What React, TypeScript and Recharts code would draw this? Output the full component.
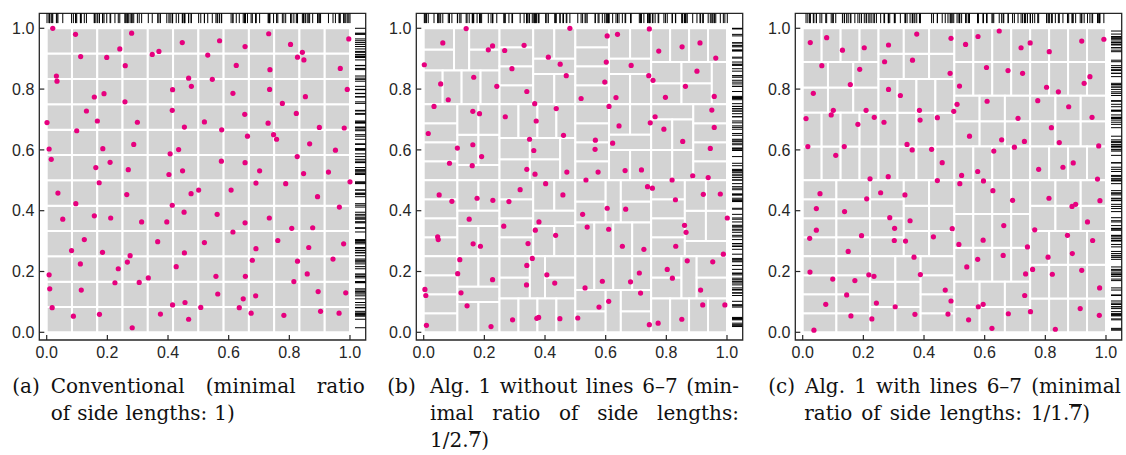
import React from 'react';
import { ComposedChart, XAxis, YAxis, Scatter, ReferenceArea, ReferenceLine } from 'recharts';

// ---------- axes ----------
const X_DOMAIN: [number, number] = [-0.0244, 1.0518];
const Y_DOMAIN: [number, number] = [-0.0253, 1.0493];
const TICKS = [0, 0.2, 0.4, 0.6, 0.8, 1.0];
const RUG_TOP_Y = 1.0332;
const RUG_RIGHT_X = 1.034;

const PINK = '#e6007e';
const CELL = '#d3d3d3';
const INK = '#262626';

// ---------- tilings: [x1, x2, y1, y2, columns, rows] ----------
const BANDS_A = [[0, 1, 0, 1, 12, 12]];

const BANDS_B = [
  [0, 0.1, 0.8611, 1, 1, 2], [0.1, 0.15, 0.8611, 1, 1, 1], [0.15, 0.25, 0.8611, 1, 1, 2], [0, 0.25, 0.75, 0.8611, 4, 1],
  [0.25, 0.3611, 0.75, 1, 1, 4], [0.3611, 0.5, 0.9, 1, 2, 1], [0.3611, 0.5, 0.85, 0.9, 1, 1], [0.3611, 0.5, 0.75, 0.85, 2, 1],
  [0.5, 0.6111, 0.75, 1, 1, 4], [0.6111, 0.75, 0.9, 1, 2, 1], [0.6111, 0.75, 0.85, 0.9, 1, 1], [0.6111, 0.75, 0.75, 0.85, 2, 1],
  [0.75, 1, 0.8889, 1, 4, 1], [0.75, 0.85, 0.75, 0.8889, 1, 2], [0.85, 0.95, 0.75, 0.8889, 1, 2], [0.95, 1, 0.75, 0.8889, 1, 1],
  [0, 0.1111, 0.5, 0.75, 1, 4], [0.1111, 0.25, 0.55, 0.75, 2, 2], [0.1111, 0.25, 0.5, 0.55, 1, 1],
  [0.25, 0.5, 0.6389, 0.75, 4, 1], [0.25, 0.35, 0.5, 0.6389, 1, 2], [0.35, 0.45, 0.5, 0.6389, 1, 2], [0.45, 0.5, 0.5, 0.6389, 1, 1],
  [0.5, 0.6111, 0.5, 0.75, 1, 4], [0.6111, 0.75, 0.65, 0.75, 2, 1], [0.6111, 0.75, 0.6, 0.65, 1, 1], [0.6111, 0.75, 0.5, 0.6, 2, 1],
  [0.75, 0.8889, 0.7, 0.75, 1, 1], [0.75, 0.8889, 0.5, 0.7, 2, 2], [0.8889, 1, 0.5, 0.75, 1, 4],
  [0, 0.1111, 0.25, 0.5, 1, 4], [0.1111, 0.25, 0.4, 0.5, 2, 1], [0.1111, 0.25, 0.35, 0.4, 1, 1], [0.1111, 0.25, 0.25, 0.35, 2, 1],
  [0.25, 0.3611, 0.25, 0.5, 1, 4], [0.3611, 0.5, 0.4, 0.5, 2, 1], [0.3611, 0.5, 0.35, 0.4, 1, 1], [0.3611, 0.5, 0.25, 0.35, 2, 1],
  [0.5, 0.6, 0.3611, 0.5, 1, 2], [0.6, 0.65, 0.3611, 0.5, 1, 1], [0.65, 0.75, 0.3611, 0.5, 1, 2], [0.5, 0.75, 0.25, 0.3611, 4, 1],
  [0.75, 0.8611, 0.25, 0.5, 1, 4], [0.8611, 1, 0.3, 0.5, 2, 2], [0.8611, 1, 0.25, 0.3, 1, 1],
  [0, 0.1111, 0, 0.25, 1, 4], [0.1111, 0.25, 0.15, 0.25, 2, 1], [0.1111, 0.25, 0.1, 0.15, 1, 1], [0.1111, 0.25, 0, 0.1, 2, 1],
  [0.25, 0.35, 0.1111, 0.25, 1, 2], [0.35, 0.4, 0.1111, 0.25, 1, 1], [0.4, 0.5, 0.1111, 0.25, 1, 2], [0.25, 0.5, 0, 0.1111, 4, 1],
  [0.5, 0.75, 0.1389, 0.25, 4, 1], [0.5, 0.6, 0, 0.1389, 1, 2], [0.6, 0.65, 0, 0.1389, 1, 1], [0.65, 0.75, 0, 0.1389, 1, 2],
  [0.75, 0.85, 0.1111, 0.25, 1, 2], [0.85, 0.9, 0.1111, 0.25, 1, 1], [0.9, 1, 0.1111, 0.25, 1, 2], [0.75, 1, 0, 0.1111, 4, 1],
];

const BANDS_C = [
  [0, 0.25, 0.8889, 1, 4, 1], [0, 0.25, 0.7222, 0.8889, 3, 2], [0, 0.25, 0.5, 0.7222, 4, 2],
  [0.25, 0.5, 0.8333, 1, 3, 2], [0.25, 0.5, 0.5, 0.8333, 4, 3],
  [0.5, 0.75, 0.7778, 1, 4, 2], [0.5, 0.75, 0.6111, 0.7778, 3, 2], [0.5, 0.75, 0.5, 0.6111, 4, 1],
  [0.75, 1, 0.7778, 1, 4, 2], [0.75, 1, 0.6111, 0.7778, 3, 2], [0.75, 1, 0.5, 0.6111, 4, 1],
  [0, 0.3333, 0.25, 0.5, 3, 4], [0.3333, 0.5, 0.25, 0.5, 2, 3],
  [0, 0.2222, 0, 0.25, 2, 4], [0.2222, 0.3889, 0, 0.25, 2, 3], [0.3889, 0.5, 0, 0.25, 1, 4],
  [0.5, 0.75, 0.1667, 0.5, 4, 3], [0.5, 0.75, 0, 0.1667, 3, 2],
  [0.75, 1, 0.3333, 0.5, 3, 2], [0.75, 1, 0, 0.3333, 4, 3],
];

// ---------- sample points [x, y] ----------
const PTS_A = [
  [0.020, 1.000], [0.095, 0.980], [0.280, 0.984], [0.032, 0.843], [0.034, 0.826], [0.112, 0.907], [0.198, 0.904], [0.241, 0.932], [0.259, 0.877], [0.348, 0.914],
  [0.370, 0.924], [0.447, 0.953], [0.570, 0.959], [0.531, 0.912], [0.654, 0.940], [0.732, 0.982], [0.804, 0.947], [0.843, 0.921], [0.827, 0.905], [0.848, 0.896],
  [0.996, 0.965], [0.968, 0.868], [0.625, 0.878], [0.736, 0.864], [0.468, 0.836], [0.546, 0.832], [0.477, 0.809], [0.415, 0.798], [0.157, 0.774], [0.189, 0.785],
  [0.258, 0.758], [0.131, 0.728], [0.001, 0.690], [0.167, 0.695], [0.299, 0.691], [0.099, 0.663], [0.008, 0.603], [0.015, 0.569], [0.185, 0.604], [0.287, 0.618],
  [0.162, 0.542], [0.209, 0.559], [0.269, 0.535], [0.414, 0.730], [0.454, 0.675], [0.435, 0.601], [0.407, 0.587], [0.403, 0.519], [0.448, 0.531], [0.520, 0.692],
  [0.577, 0.666], [0.614, 0.786], [0.653, 0.717], [0.662, 0.645], [0.576, 0.563], [0.654, 0.558], [0.702, 0.531], [0.735, 0.799], [0.777, 0.753], [0.823, 0.720],
  [0.730, 0.688], [0.748, 0.650], [0.758, 0.635], [0.853, 0.775], [0.899, 0.674], [0.867, 0.620], [0.826, 0.578], [0.847, 0.522], [0.929, 0.527], [0.952, 0.599],
  [0.981, 0.672], [0.991, 0.799],
  [1.000, 0.495], [0.173, 0.492], [0.690, 0.491], [0.788, 0.489], [0.037, 0.458], [0.264, 0.453], [0.476, 0.456], [0.501, 0.468], [0.608, 0.468], [0.893, 0.446],
  [0.096, 0.423], [0.414, 0.418], [0.965, 0.412], [0.453, 0.395], [0.562, 0.388], [0.053, 0.372], [0.157, 0.383], [0.211, 0.376], [0.313, 0.363], [0.396, 0.363],
  [0.654, 0.360], [0.734, 0.376], [0.614, 0.330], [0.808, 0.342], [0.877, 0.344], [0.124, 0.305], [0.366, 0.298], [0.520, 0.295], [0.762, 0.302], [0.979, 0.291],
  [0.082, 0.269], [0.184, 0.263], [0.454, 0.261], [0.864, 0.279], [0.690, 0.275], [0.275, 0.252], [0.266, 0.231], [0.111, 0.225], [0.678, 0.237], [0.944, 0.241],
  [0.827, 0.234], [0.236, 0.209], [0.427, 0.216], [0.008, 0.189], [0.558, 0.184], [0.655, 0.184], [0.859, 0.192], [0.225, 0.163], [0.305, 0.164], [0.335, 0.179],
  [0.815, 0.167], [0.010, 0.143], [0.114, 0.139], [0.564, 0.126], [0.895, 0.134], [0.986, 0.130], [0.648, 0.110], [0.689, 0.120], [0.018, 0.081], [0.456, 0.098],
  [0.415, 0.090], [0.508, 0.082], [0.635, 0.081], [0.088, 0.053], [0.174, 0.059], [0.375, 0.060], [0.468, 0.043], [0.674, 0.063], [0.782, 0.056], [0.903, 0.069],
  [0.964, 0.063], [0.282, 0.015],
];

const PTS_B = [
  [0.002, 0.880], [0.063, 0.952], [0.140, 0.999], [0.056, 0.817], [0.034, 0.743], [0.081, 0.765], [0.165, 0.839], [0.241, 0.809], [0.213, 0.929], [0.227, 0.942],
  [0.267, 0.927], [0.331, 0.944], [0.291, 0.867], [0.340, 0.792], [0.366, 0.752], [0.371, 0.695], [0.411, 0.905], [0.450, 0.882], [0.470, 0.844], [0.482, 1.000],
  [0.437, 0.736], [0.461, 0.648], [0.605, 0.975], [0.639, 0.980], [0.602, 0.889], [0.597, 0.823], [0.634, 0.772], [0.611, 0.743], [0.519, 0.769], [0.684, 0.878],
  [0.744, 0.998], [0.775, 0.925], [0.742, 0.844], [0.756, 0.829], [0.797, 0.773], [0.852, 0.939], [0.911, 0.952], [0.963, 0.902], [0.901, 0.859], [0.863, 0.809],
  [0.958, 0.776], [0.950, 0.731], [0.958, 0.674], [0.763, 0.709], [0.747, 0.689], [0.792, 0.668], [0.644, 0.679], [0.623, 0.622], [0.566, 0.632], [0.565, 0.602],
  [0.854, 0.628], [0.945, 0.605], [0.269, 0.709], [0.162, 0.727], [0.184, 0.719], [0.015, 0.654], [0.111, 0.606], [0.162, 0.617], [0.191, 0.578], [0.085, 0.556],
  [0.160, 0.548], [0.349, 0.635], [0.363, 0.598], [0.340, 0.536], [0.367, 0.520], [0.472, 0.527], [0.575, 0.527], [0.664, 0.532], [0.718, 0.534], [0.819, 0.501],
  [0.887, 0.515], [0.938, 0.509], [0.535, 0.501],
  [0.051, 0.452], [0.093, 0.431], [0.176, 0.441], [0.228, 0.434], [0.281, 0.430], [0.318, 0.469], [0.402, 0.489], [0.459, 0.452], [0.738, 0.479], [0.754, 0.474],
  [0.830, 0.436], [0.922, 0.454], [0.978, 0.455], [0.150, 0.372], [0.264, 0.349], [0.380, 0.363], [0.368, 0.336], [0.046, 0.314], [0.048, 0.305], [0.163, 0.291],
  [0.187, 0.283], [0.344, 0.292], [0.435, 0.319], [0.524, 0.388], [0.605, 0.408], [0.666, 0.405], [0.539, 0.346], [0.610, 0.339], [0.655, 0.283], [0.726, 0.273],
  [0.860, 0.352], [0.865, 0.329], [0.831, 0.283], [1.001, 0.376], [0.119, 0.239], [0.112, 0.193], [0.358, 0.243], [0.340, 0.220], [0.406, 0.189], [0.227, 0.173],
  [0.123, 0.130], [0.143, 0.087], [0.339, 0.156], [0.432, 0.162], [0.532, 0.146], [0.589, 0.168], [0.682, 0.166], [0.711, 0.195], [0.803, 0.207], [0.820, 0.178],
  [0.869, 0.235], [0.953, 0.232], [0.988, 0.257], [0.913, 0.139], [0.715, 0.129], [0.004, 0.141], [0.007, 0.121], [0.610, 0.102], [0.578, 0.083], [0.920, 0.090],
  [0.993, 0.090], [0.009, 0.023], [0.222, 0.019], [0.293, 0.041], [0.373, 0.046], [0.379, 0.049], [0.449, 0.045], [0.508, 0.047], [0.744, 0.025], [0.773, 0.030],
  [0.851, 0.043],
];

const PTS_C = [
  [0.025, 0.953], [0.079, 0.969], [0.131, 0.928], [0.203, 0.936], [0.063, 0.877], [0.035, 0.786], [0.157, 0.815], [0.188, 0.865], [0.283, 0.945], [0.270, 0.890],
  [0.376, 0.981], [0.362, 0.895], [0.489, 0.967], [0.486, 0.852], [0.283, 0.799], [0.322, 0.779], [0.517, 0.810], [0.537, 0.947], [0.578, 0.973], [0.606, 0.871],
  [0.648, 0.991], [0.677, 0.861], [0.720, 0.936], [0.750, 0.952], [0.725, 0.852], [0.813, 0.923], [0.804, 0.806], [0.843, 0.791], [0.920, 0.958], [0.993, 0.964],
  [0.947, 0.841], [0.928, 0.819], [0.775, 0.762], [0.608, 0.760], [0.509, 0.750], [0.498, 0.727], [0.385, 0.730], [0.387, 0.698], [0.444, 0.706], [0.268, 0.691],
  [0.236, 0.707], [0.209, 0.730], [0.182, 0.684], [0.101, 0.730], [0.094, 0.715], [0.011, 0.703], [0.017, 0.611], [0.109, 0.582], [0.137, 0.611], [0.344, 0.618],
  [0.361, 0.600], [0.425, 0.602], [0.460, 0.558], [0.550, 0.645], [0.656, 0.633], [0.630, 0.596], [0.698, 0.609], [0.731, 0.628], [0.710, 0.704], [0.820, 0.673],
  [0.846, 0.624], [0.877, 0.742], [0.954, 0.707], [0.976, 0.613], [0.892, 0.557], [0.858, 0.543], [0.778, 0.536], [0.577, 0.529], [0.524, 0.516], [0.282, 0.512],
  [0.222, 0.505], [0.444, 0.499], [0.972, 0.504], [0.596, 0.498],
  [0.057, 0.456], [0.045, 0.407], [0.045, 0.336], [0.023, 0.309], [0.138, 0.397], [0.211, 0.439], [0.257, 0.459], [0.337, 0.452], [0.287, 0.377], [0.303, 0.342],
  [0.302, 0.302], [0.339, 0.300], [0.354, 0.367], [0.194, 0.318], [0.150, 0.266], [0.518, 0.489], [0.627, 0.466], [0.692, 0.434], [0.812, 0.441], [0.980, 0.433],
  [0.888, 0.414], [0.900, 0.421], [0.939, 0.363], [0.765, 0.337], [0.873, 0.319], [0.663, 0.351], [0.493, 0.341], [0.431, 0.314], [0.515, 0.289], [0.595, 0.303],
  [0.741, 0.281], [0.889, 0.259], [0.956, 0.302], [0.367, 0.247], [0.577, 0.240], [0.661, 0.253], [0.541, 0.215], [0.809, 0.247], [0.758, 0.207], [0.823, 0.191],
  [0.920, 0.204], [0.735, 0.192], [0.388, 0.190], [0.218, 0.189], [0.235, 0.184], [0.172, 0.170], [0.099, 0.175], [0.024, 0.198], [0.145, 0.123], [0.470, 0.139],
  [0.489, 0.103], [0.579, 0.084], [0.595, 0.092], [0.732, 0.121], [0.751, 0.068], [0.915, 0.078], [0.979, 0.146], [0.076, 0.092], [0.243, 0.096], [0.305, 0.084],
  [0.159, 0.054], [0.228, 0.044], [0.370, 0.059], [0.479, 0.060], [0.547, 0.041], [0.678, 0.061], [0.978, 0.056], [0.037, 0.007], [0.624, 0.013], [0.833, 0.010],
];

// ---------- helpers ----------
function cellsFromBands(bands: number[][]) {
  const out: number[][] = [];
  bands.forEach(([x1, x2, y1, y2, nc, nr]) => {
    const w = (x2 - x1) / nc;
    const h = (y2 - y1) / nr;
    for (let i = 0; i < nc; i++) {
      for (let j = 0; j < nr; j++) {
        out.push([x1 + i * w, x1 + (i + 1) * w, y1 + j * h, y1 + (j + 1) * h]);
      }
    }
  });
  return out;
}

const Dot = (p: any) => <circle cx={p.cx} cy={p.cy} r={2.6} fill={PINK} />;
const RugV = (p: any) => <line x1={p.cx} x2={p.cx} y1={p.cy - 4.9} y2={p.cy + 4.9} stroke="#000" strokeWidth={1} />;
const RugH = (p: any) => <line x1={p.cx - 5.3} x2={p.cx + 5.3} y1={p.cy} y2={p.cy} stroke="#000" strokeWidth={1} />;

const tickStyle = { fill: INK, fontSize: 16, fontFamily: "'Liberation Sans', Arial, sans-serif" };

function Panel({ left, points, bands }: { left: number; points: number[][]; bands: number[][] }) {
  const cells = cellsFromBands(bands);
  const data = points.map(([x, y]) => ({ x, y }));
  const rugTop = points.map(([x]) => ({ x, y: RUG_TOP_Y }));
  const rugRight = points.map(([, y]) => ({ x: RUG_RIGHT_X, y }));
  const tickLen = 0.0165;
  return (
    <div style={{ position: 'absolute', left, top: 0 }}>
      <ComposedChart width={372} height={372} margin={{ top: 13.3, right: 6.3, bottom: 2, left: 0 }}>
        <XAxis
          type="number"
          dataKey="x"
          domain={X_DOMAIN}
          allowDataOverflow
          ticks={TICKS}
          interval={0}
          tickFormatter={(v: number) => v.toFixed(1)}
          tickLine={false}
          axisLine={false}
          tickSize={0}
          tickMargin={7}
          height={30}
          tick={tickStyle}
        />
        <YAxis
          type="number"
          dataKey="y"
          domain={Y_DOMAIN}
          allowDataOverflow
          ticks={TICKS}
          interval={0}
          tickFormatter={(v: number) => v.toFixed(1)}
          tickLine={false}
          axisLine={false}
          tickSize={0}
          tickMargin={5}
          width={39.3}
          tick={tickStyle}
        />
        {cells.map((c, i) => (
          <ReferenceArea
            key={'c' + i}
            x1={c[0]}
            x2={c[1]}
            y1={c[2]}
            y2={c[3]}
            fill={CELL}
            fillOpacity={1}
            stroke="#ffffff"
            strokeWidth={2}
            ifOverflow="visible"
          />
        ))}
        <ReferenceArea
          x1={X_DOMAIN[0]}
          x2={X_DOMAIN[1]}
          y1={Y_DOMAIN[0]}
          y2={Y_DOMAIN[1]}
          fill="none"
          fillOpacity={0}
          stroke={INK}
          strokeWidth={1.3}
          ifOverflow="visible"
        />
        {TICKS.map((v) => (
          <ReferenceLine
            key={'tx' + v}
            segment={[{ x: v, y: Y_DOMAIN[0] }, { x: v, y: Y_DOMAIN[0] + tickLen }]}
            stroke={INK}
            strokeWidth={1.2}
            ifOverflow="visible"
          />
        ))}
        {TICKS.map((v) => (
          <ReferenceLine
            key={'ty' + v}
            segment={[{ x: X_DOMAIN[0], y: v }, { x: X_DOMAIN[0] + tickLen, y: v }]}
            stroke={INK}
            strokeWidth={1.2}
            ifOverflow="visible"
          />
        ))}
        <Scatter data={rugTop} shape={RugV} isAnimationActive={false} />
        <Scatter data={rugRight} shape={RugH} isAnimationActive={false} />
        <Scatter data={data} shape={Dot} isAnimationActive={false} />
      </ComposedChart>
    </div>
  );
}

// ---------- captions ----------
const CAP_FONT = "'DejaVu Serif', 'Liberation Serif', serif";
const CAP_SIZE = 20;
const CAP_ASC = 16.9;

function CapLine({ x, base, width, words, justify, gap = 7 }: any) {
  return (
    <div
      style={{
        position: 'absolute',
        left: x,
        top: base - CAP_ASC,
        width: justify ? width : undefined,
        display: 'flex',
        justifyContent: justify ? 'space-between' : 'flex-start',
        columnGap: justify ? 0 : gap,
        whiteSpace: 'nowrap',
        fontFamily: CAP_FONT,
        fontSize: CAP_SIZE,
        lineHeight: CAP_SIZE + 'px',
        color: '#111',
      }}
    >
      {words.map((w: any, i: number) => (
        <span key={i}>{w}</span>
      ))}
    </div>
  );
}

const Bar7 = () => (
  <span style={{ display: 'inline-block', borderTop: '1.3px solid #111', lineHeight: '0.87em' }}>7</span>
);

export default function App() {
  return (
    <div style={{ position: 'absolute', left: 0, top: 0, width: 1126, height: 455, background: '#fff', overflow: 'hidden' }}>
      <Panel left={0} points={PTS_A} bands={BANDS_A} />
      <Panel left={377.4} points={PTS_B} bands={BANDS_B} />
      <Panel left={755.7} points={PTS_C} bands={BANDS_C} />

      <CapLine x={12.3} base={393} words={['(a)']} />
      <CapLine x={50.7} base={393} width={314} justify words={['Conventional', '(minimal', 'ratio']} />
      <CapLine x={50.7} base={420} words={['of', 'side', 'lengths:', '1)']} />

      <CapLine x={387.3} base={393} words={['(b)']} />
      <CapLine x={430} base={393} width={309} justify words={['Alg.', '1', 'without', 'lines', '6–7', '(min-']} />
      <CapLine x={430} base={420} width={309} justify words={['imal', 'ratio', 'of', 'side', 'lengths:']} />
      <CapLine x={430} base={447} words={[<>1/2.<Bar7 />)</>]} />

      <CapLine x={768.3} base={393} words={['(c)']} />
      <CapLine x={805} base={393} width={316} justify words={['Alg.', '1', 'with', 'lines', '6–7', '(minimal']} />
      <CapLine x={804.3} base={420} gap={9} words={['ratio', 'of', 'side', 'lengths:', <>1/1.<Bar7 />)</>]} />
    </div>
  );
}
